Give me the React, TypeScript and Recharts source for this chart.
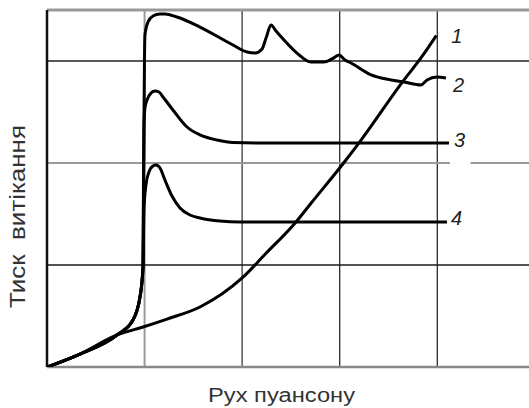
import React from "react";
import { LineChart, Line, XAxis, YAxis, ReferenceLine } from "recharts";

type Pt = { x: number; y: number };

const curve1: Pt[] = [
  { x: 0, y: 0 }, { x: 0.338, y: 0.127 }, { x: 0.717, y: 0.314 }, { x: 0.984, y: 0.392 },
  { x: 1.23, y: 0.47 }, { x: 1.568, y: 0.588 }, { x: 2.0, y: 0.873 }, { x: 2.24, y: 1.11 },
  { x: 2.55, y: 1.42 }, { x: 2.71, y: 1.61 }, { x: 3.04, y: 2.0 }, { x: 3.2, y: 2.2 },
  { x: 3.64, y: 2.79 }, { x: 3.84, y: 3.04 }, { x: 3.99, y: 3.25 },
];

const rise: Pt[] = [
  { x: 0, y: 0 }, { x: 0.338, y: 0.127 }, { x: 0.717, y: 0.314 }, { x: 0.881, y: 0.461 },
  { x: 0.953, y: 0.686 }, { x: 0.984, y: 0.98 },
];

const curve2: Pt[] = [
  ...rise,
  { x: 0.989, y: 1.637 }, { x: 0.994, y: 2.422 }, { x: 0.999, y: 3.01 }, { x: 1.004, y: 3.255 },
  { x: 1.035, y: 3.382 }, { x: 1.086, y: 3.441 }, { x: 1.158, y: 3.461 }, { x: 1.209, y: 3.461 },
  { x: 1.332, y: 3.431 }, { x: 1.568, y: 3.333 }, { x: 1.906, y: 3.157 }, { x: 2.05, y: 3.088 },
  { x: 2.132, y: 3.078 }, { x: 2.204, y: 3.118 }, { x: 2.245, y: 3.225 }, { x: 2.296, y: 3.353 },
  { x: 2.347, y: 3.294 }, { x: 2.429, y: 3.206 }, { x: 2.562, y: 3.078 }, { x: 2.706, y: 2.99 },
  { x: 2.839, y: 2.99 }, { x: 2.921, y: 3.02 }, { x: 2.993, y: 3.059 }, { x: 3.054, y: 3.01 },
  { x: 3.116, y: 2.98 }, { x: 3.321, y: 2.863 }, { x: 3.526, y: 2.814 }, { x: 3.659, y: 2.794 },
  { x: 3.833, y: 2.765 }, { x: 3.895, y: 2.814 }, { x: 3.997, y: 2.843 }, { x: 4.089, y: 2.833 },
];

const curve3: Pt[] = [
  ...rise,
  { x: 0.989, y: 1.833 }, { x: 0.994, y: 2.373 }, { x: 1.004, y: 2.539 }, { x: 1.025, y: 2.618 },
  { x: 1.066, y: 2.686 }, { x: 1.107, y: 2.706 }, { x: 1.148, y: 2.696 }, { x: 1.189, y: 2.647 },
  { x: 1.291, y: 2.52 }, { x: 1.435, y: 2.353 }, { x: 1.568, y: 2.275 }, { x: 1.742, y: 2.225 },
  { x: 1.906, y: 2.2 }, { x: 2.183, y: 2.196 }, { x: 4.12, y: 2.196 },
];

const curve4: Pt[] = [
  ...rise,
  { x: 0.994, y: 1.539 }, { x: 1.014, y: 1.784 }, { x: 1.045, y: 1.912 }, { x: 1.086, y: 1.971 },
  { x: 1.117, y: 1.98 }, { x: 1.158, y: 1.951 }, { x: 1.209, y: 1.833 }, { x: 1.281, y: 1.676 },
  { x: 1.363, y: 1.559 }, { x: 1.466, y: 1.49 }, { x: 1.568, y: 1.461 }, { x: 1.773, y: 1.431 },
  { x: 1.978, y: 1.422 }, { x: 4.1, y: 1.422 },
];

const seriesNames = ["1", "2", "3", "4"];
const seriesData = [curve1, curve2, curve3, curve4];
const xGrid = [1, 2, 3, 4];
const yGrid = [1, 2, 3];
const xTitle = "Рух пуансону";
const yTitle = "Тиск  витікання";

const labelOffset = [
  { dx: 15, dy: 0 },
  { dx: 7, dy: 7 },
  { dx: 5, dy: -3 },
  { dx: 4, dy: -4 },
];
const xGridStyle = [
  { stroke: "#9a9a9a", w: 2 },
  { stroke: "#555", w: 1.5 },
  { stroke: "#1a1a1a", w: 1.2 },
  { stroke: "#1a1a1a", w: 1.2 },
];
const yGridStyle = [
  { stroke: "#1a1a1a", w: 1.3 },
  { stroke: "#9a9a9a", w: 2 },
  { stroke: "#222", w: 1.3 },
];

const font = "'Liberation Sans', Arial, sans-serif";

export default function App() {
  return (
    <div style={{ position: "absolute", left: 0, top: 0, width: 529, height: 408, overflow: "hidden", background: "#fff" }}>
      <LineChart width={529} height={408} margin={{ top: 10, right: 0, left: 47, bottom: 41 }}>
        <XAxis type="number" dataKey="x" domain={[0, 4.94]} hide allowDataOverflow />
        <YAxis type="number" dataKey="y" domain={[0, 3.5]} hide allowDataOverflow />
        {xGrid.map((v, i) => (
          <ReferenceLine key={"xg" + v} x={v} stroke={xGridStyle[i].stroke} strokeWidth={xGridStyle[i].w} />
        ))}
        {yGrid.map((v, i) => (
          <ReferenceLine key={"yg" + v} y={v} stroke={yGridStyle[i].stroke} strokeWidth={yGridStyle[i].w} />
        ))}
        <ReferenceLine segment={[{ x: 4.13, y: 2 }, { x: 4.34, y: 2 }]} stroke="#fff" strokeWidth={4} />
        <ReferenceLine y={3.5} stroke="#999" strokeWidth={3} />
        <ReferenceLine y={0} stroke="#888" strokeWidth={2.5} />
        <ReferenceLine x={0} stroke="#111" strokeWidth={2.5} />
        {seriesData.map((d, si) => (
          <Line
            key={seriesNames[si]}
            data={d}
            dataKey="y"
            type="monotone"
            stroke="#000"
            strokeWidth={3}
            isAnimationActive={false}
            activeDot={false}
            dot={(p: any) => {
              if (p.index !== d.length - 1) return <g key={"d" + si + "-" + p.index} />;
              return (
                <text
                  key={"d" + si + "-" + p.index}
                  x={p.cx + labelOffset[si].dx}
                  y={p.cy + labelOffset[si].dy}
                  dominantBaseline="central"
                  fontFamily={font}
                  fontStyle="italic"
                  fontSize={20}
                  fill="#222"
                >
                  {seriesNames[si]}
                </text>
              );
            }}
          />
        ))}
      </LineChart>
      <svg width={529} height={408} style={{ position: "absolute", left: 0, top: 0, pointerEvents: "none" }}>
        <text x={208} y={402} fontFamily={font} fontSize={20} fill="#333" textLength={147} lengthAdjust="spacingAndGlyphs">
          {xTitle}
        </text>
        <text
          x={0}
          y={0}
          transform="translate(25,216.5) rotate(-90)"
          textAnchor="middle"
          fontFamily={font}
          fontSize={22}
          fill="#333"
          textLength={183}
          lengthAdjust="spacingAndGlyphs"
          style={{ whiteSpace: "pre" }}
        >
          {yTitle}
        </text>
      </svg>
    </div>
  );
}
